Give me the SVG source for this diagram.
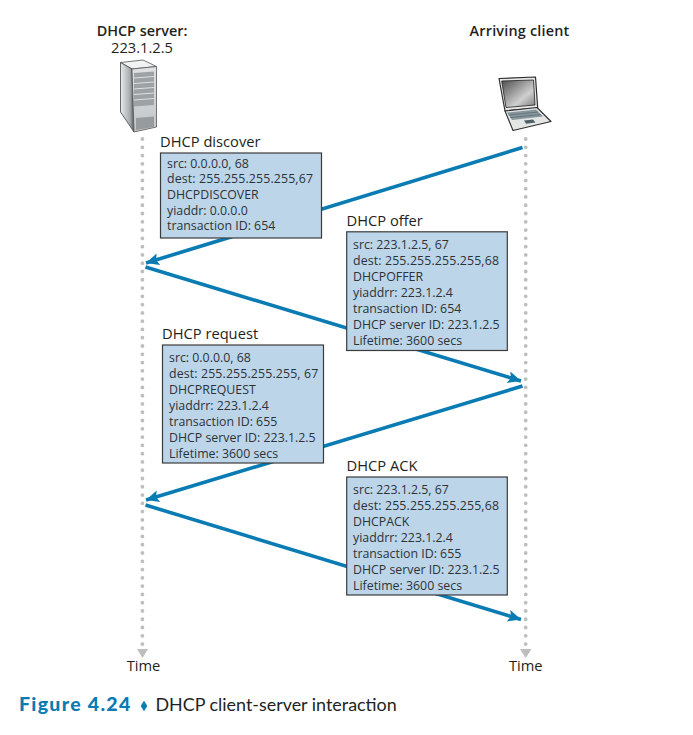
<svg xmlns="http://www.w3.org/2000/svg" width="693" height="735" viewBox="0 0 693 735">
<style>
text{font-family:"Open Sans","Noto Sans","Liberation Sans",sans-serif;fill:#231f20}
.h{font-size:14.4px;font-weight:600}
.l{font-size:14.7px}
.t{font-size:12.35px;fill:#2c3338}
.d{letter-spacing:.13px}
.b{fill:#bdd5e8;stroke:#3b3b3b;stroke-width:1.2}
.life{stroke:#bcbec0;stroke-width:3.8;stroke-linecap:round;stroke-dasharray:0 8.28;fill:none}
.msg{stroke:#0a7cb3;stroke-width:3.6;fill:none;marker-end:url(#a)}
.tri{fill:#bcbec0}
.cap{font-family:Lato,"Open Sans",sans-serif}
</style>
<defs>
<marker id="a" markerUnits="userSpaceOnUse" markerWidth="16" markerHeight="14" refX="13" refY="6" orient="auto"><path d="M0 0L13 6L0 12L2.500 6Z" fill="#0a7cb3"/></marker>
<linearGradient id="sv" x1="0" y1="0" x2="1" y2="0"><stop offset="0" stop-color="#e8eaeb"/><stop offset=".7" stop-color="#a7abae"/><stop offset="1" stop-color="#55585a"/></linearGradient>
<linearGradient id="fr" x1="0" y1="0" x2="0" y2="1"><stop offset="0" stop-color="#dfe1e3"/><stop offset="1" stop-color="#c2c5c7"/></linearGradient>
<linearGradient id="sc" x1="0" y1="0" x2="1" y2="1"><stop offset="0" stop-color="#4c4c4c"/><stop offset=".65" stop-color="#cfcfcf"/><stop offset="1" stop-color="#7b7b7b"/></linearGradient>
</defs>
<rect width="693" height="735" fill="#fff"/>
<g id="connectors">
<path class="life" d="M142.400 139V645"/>
<path class="life" d="M525.700 139V645"/>
<path class="tri" d="M137 649H148L142.500 658Z"/>
<path class="tri" d="M520 649H531.400L525.700 658Z"/>
<path class="msg" d="M522.500 147.500L146 263"/>
<path class="msg" d="M145.500 267L521 381"/>
<path class="msg" d="M522.500 386L146 500"/>
<path class="msg" d="M145.500 505L521 619.500"/>
</g>
<g id="server">
<text class="h" x="142" y="35.700" text-anchor="middle">DHCP server:</text>
<text class="l" x="142" y="52.700" text-anchor="middle">223.1.2.5</text>
<path d="M120.500 62.500L143 60L156.500 66.500L132 69Z" fill="#f1f2f2" stroke="#555" stroke-width=".8"/>
<path d="M120.500 62.500L132 69L134 132L120.500 112Z" fill="url(#sv)" stroke="#444" stroke-width=".8"/>
<path d="M132 69L156.500 66.500V127L134 132Z" fill="url(#fr)" stroke="#555" stroke-width=".8"/>
<path d="M134 73L154 71.500V105L134 106.500Z" fill="#9ea2a5"/>
<path d="M136 118L154 116.500V127L136 130Z" fill="#979b9e"/>
<path d="M134 78L154 76.500M134 83.500L154 82M134 89L154 87.500M134 94.500L154 93M134 100L154 98.500" stroke="#e4e6e7" stroke-width=".9"/>
</g>
<g id="client">
<text class="h" x="519.500" y="35.700" text-anchor="middle" style="letter-spacing:.2px">Arriving client</text>
<path d="M499 78.500L535.500 77L537.700 108L505 111Z" fill="#e8e8e8" stroke="#2e2e2e" stroke-width="1.200" stroke-linejoin="round"/>
<path d="M501.700 81L533.500 80L535 105L506 107.500Z" fill="url(#sc)" stroke="#222" stroke-width=".8"/>
<path d="M505 111L537 107.500L551 121.500L513 130.500Z" fill="#e4e6e6" stroke="#2e2e2e" stroke-width="1.100" stroke-linejoin="round"/>
<path d="M507 112.500L536 109.500L543 116.500L512 120Z" fill="#87979c"/>
<path d="M508.500 115L538 112M510 117.500L541 114.500" stroke="#56666b" stroke-width=".7"/>
<path d="M524 120.500L533 119.500L535.500 122.500L526 123.800Z" fill="#4f6066"/>
</g>
<g id="m1">
<text class="l" x="160" y="147">DHCP discover</text>
<rect class="b" x="160.500" y="153" width="161" height="85"/>
<text class="t"><tspan x="167" y="167.500">src: 0.0.0.0, 68</tspan><tspan class="d" x="167" y="183">dest: 255.255.255.255,67</tspan><tspan x="167" y="199">DHCPDISCOVER</tspan><tspan x="167" y="214.500">yiaddr: 0.0.0.0</tspan><tspan x="167" y="230">transaction ID: 654</tspan></text>
</g>
<g id="m2">
<text class="l" x="346.500" y="225.700">DHCP offer</text>
<rect class="b" x="346.700" y="231.800" width="160.600" height="118.700"/>
<text class="t"><tspan x="353" y="248.500">src: 223.1.2.5, 67</tspan><tspan class="d" x="353" y="264.800">dest: 255.255.255.255,68</tspan><tspan x="353" y="281">DHCPOFFER</tspan><tspan x="353" y="297">yiaddrr: 223.1.2.4</tspan><tspan x="353" y="313">transaction ID: 654</tspan><tspan x="353" y="329">DHCP server ID: 223.1.2.5</tspan><tspan x="353" y="345">Lifetime: 3600 secs</tspan></text>
</g>
<g id="m3">
<text class="l" x="162" y="339">DHCP request</text>
<rect class="b" x="162.500" y="345" width="161" height="118"/>
<text class="t"><tspan x="169" y="361.500">src: 0.0.0.0, 68</tspan><tspan class="d" x="169" y="378">dest: 255.255.255.255, 67</tspan><tspan x="169" y="394">DHCPREQUEST</tspan><tspan x="169" y="410">yiaddrr: 223.1.2.4</tspan><tspan x="169" y="426">transaction ID: 655</tspan><tspan x="169" y="442">DHCP server ID: 223.1.2.5</tspan><tspan x="169" y="458">Lifetime: 3600 secs</tspan></text>
</g>
<g id="m4">
<text class="l" x="346.500" y="471">DHCP ACK</text>
<rect class="b" x="346.700" y="477" width="160.600" height="118"/>
<text class="t"><tspan x="353" y="493.700">src: 223.1.2.5, 67</tspan><tspan class="d" x="353" y="510">dest: 255.255.255.255,68</tspan><tspan x="353" y="526">DHCPACK</tspan><tspan x="353" y="542">yiaddrr: 223.1.2.4</tspan><tspan x="353" y="558">transaction ID: 655</tspan><tspan x="353" y="574">DHCP server ID: 223.1.2.5</tspan><tspan x="353" y="590">Lifetime: 3600 secs</tspan></text>
</g>
<text class="l" x="143.500" y="670.500" text-anchor="middle">Time</text>
<text class="l" x="525.800" y="670.500" text-anchor="middle">Time</text>
<text class="cap" x="19" y="711" style="font-size:19.500px;font-weight:900;fill:#0a7cb3;letter-spacing:1.300px">Figure 4.24</text>
<path d="M144 700.800L147.300 706L144 711.200L140.700 706Z" fill="#0a7cb3"/>
<text class="cap" x="155.500" y="711" style="font-size:17.900px">DHCP client-server interaction</text>
</svg>
